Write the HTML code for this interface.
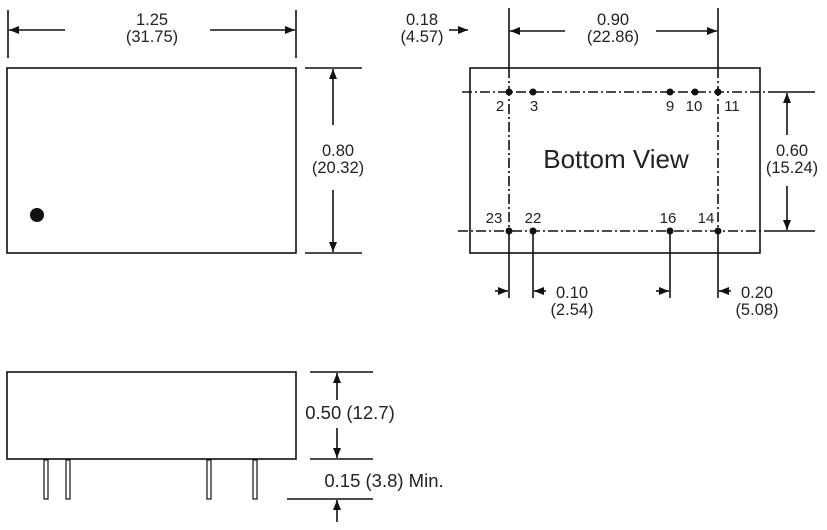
<!DOCTYPE html>
<html><head><style>body{margin:0;background:#fff}svg{display:block}text{font-family:"Liberation Sans",sans-serif;fill:#222}</style></head><body>
<svg width="827" height="530" viewBox="0 0 827 530" xmlns="http://www.w3.org/2000/svg">
<defs><marker id="a" viewBox="0 0 10 10" refX="10" refY="5" markerWidth="10" markerHeight="10" markerUnits="userSpaceOnUse" orient="auto"><path d="M0,1L10,5L0,9z" fill="#111"/></marker></defs>
<g stroke="#111" stroke-width="1.6" fill="none">
<rect x="7" y="68" width="289" height="185"/>
<line x1="8" y1="10" x2="8" y2="58"/><line x1="296" y1="10" x2="296" y2="58"/>
<line x1="65" y1="30" x2="9" y2="30" marker-end="url(#a)"/><line x1="210" y1="30" x2="295" y2="30" marker-end="url(#a)"/>
<line x1="305" y1="68" x2="362" y2="68"/><line x1="305" y1="253" x2="362" y2="253"/>
<line x1="333" y1="125" x2="333" y2="69" marker-end="url(#a)"/><line x1="333" y1="190" x2="333" y2="252" marker-end="url(#a)"/>
<rect x="470" y="68" width="290" height="185"/>
<line x1="509" y1="8" x2="509" y2="68"/><line x1="718" y1="8" x2="718" y2="68"/>
<line x1="509" y1="231" x2="509" y2="298"/><line x1="533" y1="231" x2="533" y2="298"/><line x1="670" y1="231" x2="670" y2="298"/><line x1="718" y1="231" x2="718" y2="298"/>
<line x1="509" y1="68" x2="509" y2="231" stroke-dasharray="10,3,2,3"/><line x1="718" y1="68" x2="718" y2="231" stroke-dasharray="10,3,2,3"/>
<line x1="462" y1="92" x2="770" y2="92" stroke-dasharray="10,3,2,3"/><line x1="458" y1="231" x2="770" y2="231" stroke-dasharray="10,3,2,3"/>
<line x1="770" y1="92" x2="815" y2="92"/><line x1="770" y1="231" x2="815" y2="231"/>
<line x1="565" y1="31" x2="510" y2="31" marker-end="url(#a)"/><line x1="656" y1="31" x2="717" y2="31" marker-end="url(#a)"/>
<line x1="449" y1="30" x2="468" y2="30" marker-end="url(#a)"/>
<line x1="787" y1="135" x2="787" y2="93" marker-end="url(#a)"/><line x1="787" y1="186" x2="787" y2="230" marker-end="url(#a)"/>
<line x1="495" y1="291" x2="508" y2="291" marker-end="url(#a)"/><line x1="546" y1="291" x2="534" y2="291" marker-end="url(#a)"/>
<line x1="656" y1="291" x2="669" y2="291" marker-end="url(#a)"/><line x1="731" y1="291" x2="719" y2="291" marker-end="url(#a)"/>
<rect x="7" y="372" width="289" height="87"/>
<rect x="44" y="460" width="4" height="39" stroke-width="1.2"/><rect x="66" y="460" width="4" height="39" stroke-width="1.2"/><rect x="207" y="460" width="4" height="39" stroke-width="1.2"/><rect x="253" y="460" width="4" height="39" stroke-width="1.2"/>
<line x1="310" y1="372" x2="373" y2="372"/><line x1="310" y1="459" x2="373" y2="459"/><line x1="287" y1="499" x2="373" y2="499"/>
<line x1="337" y1="400" x2="337" y2="373" marker-end="url(#a)"/><line x1="337" y1="428" x2="337" y2="458" marker-end="url(#a)"/>
<line x1="337" y1="522" x2="337" y2="500" marker-end="url(#a)"/>
</g>
<g fill="#111"><circle cx="37" cy="215" r="7"/>
<circle cx="509" cy="92" r="3.5"/><circle cx="533" cy="92" r="3.5"/><circle cx="670" cy="92" r="3.5"/><circle cx="695" cy="92" r="3.5"/><circle cx="718" cy="92" r="3.5"/>
<circle cx="509" cy="231" r="3.5"/><circle cx="533" cy="231" r="3.5"/><circle cx="670" cy="231" r="3.5"/><circle cx="718" cy="231" r="3.5"/></g>
<g font-size="16.5" text-anchor="middle">
<text x="152" y="25">1.25</text><text x="152" y="42">(31.75)</text>
<text x="338" y="156">0.80</text><text x="338" y="173">(20.32)</text>
<text x="422" y="25">0.18</text><text x="422" y="42">(4.57)</text>
<text x="613" y="25">0.90</text><text x="613" y="42">(22.86)</text>
<text x="792" y="156">0.60</text><text x="792" y="173">(15.24)</text>
<text x="572" y="298">0.10</text><text x="572" y="315">(2.54)</text>
<text x="757" y="298">0.20</text><text x="757" y="315">(5.08)</text>
</g>
<g font-size="18.5" text-anchor="middle">
<text x="350" y="419">0.50 (12.7)</text><text x="384" y="487">0.15 (3.8) Min.</text>
</g>
<g font-size="15" text-anchor="middle">
<text x="500" y="111">2</text><text x="534" y="111">3</text><text x="670" y="111">9</text><text x="694" y="111">10</text><text x="732" y="111">11</text>
<text x="494" y="223">23</text><text x="533" y="223">22</text><text x="668" y="223">16</text><text x="706" y="223">14</text>
</g>
<text x="616" y="168" font-size="26" text-anchor="middle">Bottom View</text>
</svg>
</body></html>
